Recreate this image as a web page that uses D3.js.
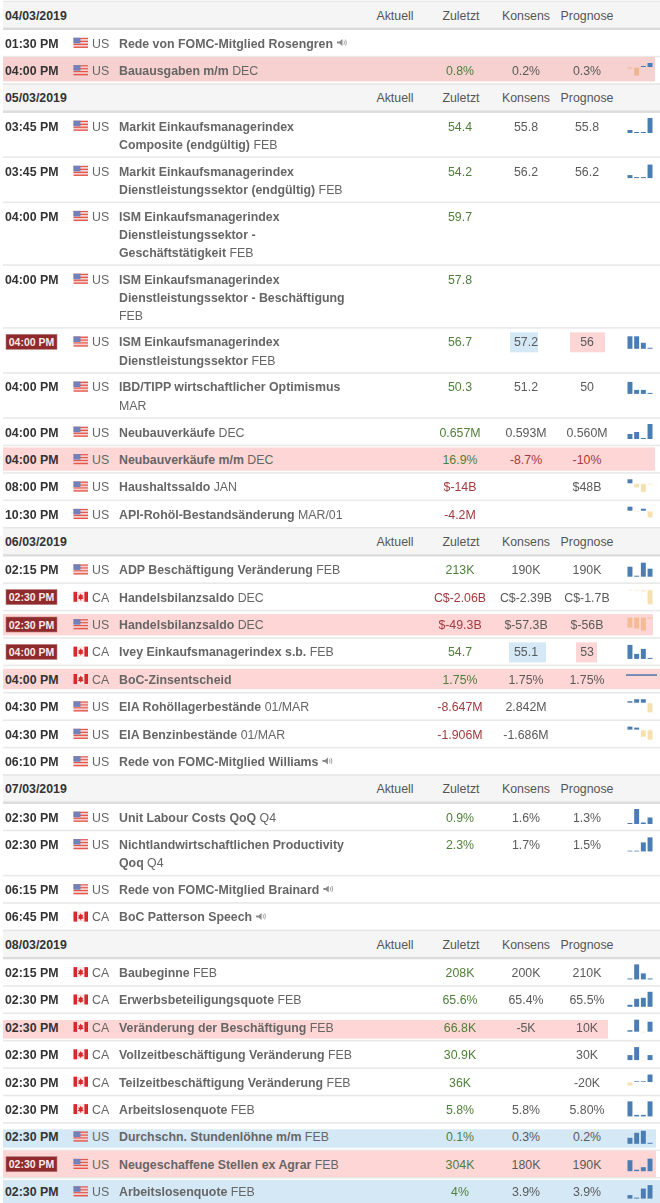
<!DOCTYPE html>
<html>
  <head>
    <meta charset="utf-8" />
    <title>Wirtschaftskalender</title>
    <script src="https://d3js.org/d3.v7.min.js"></script>
    <style>
      body { margin: 0; background: #fff; }
      svg { display: block; font-family: "Liberation Sans", Arial, sans-serif; }
    </style>
  </head>
  <body>
    <svg width="660" height="1203"></svg>

    <script>
      // Section headers
      const dates = ["04/03/2019", "05/03/2019", "06/03/2019", "07/03/2019", "08/03/2019"];
      const sectionSizes = [2, 10, 8, 4, 9];
      const columnNames = ["Aktuell", "Zuletzt", "Konsens", "Prognose"];

      // One entry per row, in reading order
      const times = [
        "01:30 PM", "04:00 PM",
        "03:45 PM", "03:45 PM", "04:00 PM", "04:00 PM", "04:00 PM", "04:00 PM", "04:00 PM", "04:00 PM", "08:00 PM", "10:30 PM",
        "02:15 PM", "02:30 PM", "02:30 PM", "04:00 PM", "04:00 PM", "04:30 PM", "04:30 PM", "06:10 PM",
        "02:30 PM", "02:30 PM", "06:15 PM", "06:45 PM",
        "02:15 PM", "02:30 PM", "02:30 PM", "02:30 PM", "02:30 PM", "02:30 PM", "02:30 PM", "02:30 PM", "02:30 PM",
      ];
      const countries = [
        "US", "US",
        "US", "US", "US", "US", "US", "US", "US", "US", "US", "US",
        "US", "CA", "US", "CA", "CA", "US", "US", "US",
        "US", "US", "US", "CA",
        "CA", "CA", "CA", "CA", "CA", "CA", "US", "US", "US",
      ];
      const titles = [
        ["Rede von FOMC-Mitglied Rosengren"],
        ["Bauausgaben m/m"],
        ["Markit Einkaufsmanagerindex", "Composite (endgültig)"],
        ["Markit Einkaufsmanagerindex", "Dienstleistungssektor (endgültig)"],
        ["ISM Einkaufsmanagerindex", "Dienstleistungssektor -", "Geschäftstätigkeit"],
        ["ISM Einkaufsmanagerindex", "Dienstleistungssektor - Beschäftigung", ""],
        ["ISM Einkaufsmanagerindex", "Dienstleistungssektor"],
        ["IBD/TIPP wirtschaftlicher Optimismus", ""],
        ["Neubauverkäufe"],
        ["Neubauverkäufe m/m"],
        ["Haushaltssaldo"],
        ["API-Rohöl-Bestandsänderung"],
        ["ADP Beschäftigung Veränderung"],
        ["Handelsbilanzsaldo"],
        ["Handelsbilanzsaldo"],
        ["Ivey Einkaufsmanagerindex s.b."],
        ["BoC-Zinsentscheid"],
        ["EIA Rohöllagerbestände"],
        ["EIA Benzinbestände"],
        ["Rede von FOMC-Mitglied Williams"],
        ["Unit Labour Costs QoQ"],
        ["Nichtlandwirtschaftlichen Productivity", "Qoq"],
        ["Rede von FOMC-Mitglied Brainard"],
        ["BoC Patterson Speech"],
        ["Baubeginne"],
        ["Erwerbsbeteiligungsquote"],
        ["Veränderung der Beschäftigung"],
        ["Vollzeitbeschäftigung Veränderung"],
        ["Teilzeitbeschäftigung Veränderung"],
        ["Arbeitslosenquote"],
        ["Durchschn. Stundenlöhne m/m"],
        ["Neugeschaffene Stellen ex Agrar"],
        ["Arbeitslosenquote"],
      ];
      const periods = [
        "", "DEC",
        "FEB", "FEB", "FEB", "FEB", "FEB", "MAR", "DEC", "DEC", "JAN", "MAR/01",
        "FEB", "DEC", "DEC", "FEB", "", "01/MAR", "01/MAR", "",
        "Q4", "Q4", "", "",
        "FEB", "FEB", "FEB", "FEB", "FEB", "FEB", "FEB", "FEB", "FEB",
      ];
      const zuletzt = [
        "", "0.8%",
        "54.4", "54.2", "59.7", "57.8", "56.7", "50.3", "0.657M", "16.9%", "$-14B", "-4.2M",
        "213K", "C$-2.06B", "$-49.3B", "54.7", "1.75%", "-8.647M", "-1.906M", "",
        "0.9%", "2.3%", "", "",
        "208K", "65.6%", "66.8K", "30.9K", "36K", "5.8%", "0.1%", "304K", "4%",
      ];
      const konsens = [
        "", "0.2%",
        "55.8", "56.2", "", "", "57.2", "51.2", "0.593M", "-8.7%", "", "",
        "190K", "C$-2.39B", "$-57.3B", "55.1", "1.75%", "2.842M", "-1.686M", "",
        "1.6%", "1.7%", "", "",
        "200K", "65.4%", "-5K", "", "", "5.8%", "0.3%", "180K", "3.9%",
      ];
      const prognose = [
        "", "0.3%",
        "55.8", "56.2", "", "", "56", "50", "0.560M", "-10%", "$48B", "",
        "190K", "C$-1.7B", "$-56B", "53", "1.75%", "", "", "",
        "1.3%", "1.5%", "", "",
        "210K", "65.5%", "10K", "30K", "-20K", "5.80%", "0.2%", "190K", "3.9%",
      ];
      // Sparkline bars (relative heights, negative = hanging bar)
      const sparks = [
        null, [-1, -8, 1, 4],
        [3, 1, 1, 15], [3, 1, 1, 13.5], null, null, [12.5, 12.5, 6, 1], [12, 4, 4, 1], [5, 7, 1, 15], null, [4, -3.5, -8, -0.7], [4, -0.5, 2, -6],
        [10, 1, 14, 8], [-0.5, -0.5, -1, -14], [-10, -11, -13, -1], [14, 5, 10, 1], [1, 1, 1, 1], [1.5, 3.5, 3.5, -9], [3, 2, -6.5, -9.5], null,
        [1, 15, 1.5, 6.5], [0.7, 0.7, 9, 14], null, null,
        [1, 15, 6, 1], [2, 8, 9, 15], [1.5, 12, -0.5, 10], [5, 13, -0.5, 5], [-3, 0.7, 0.7, 7.5], [15, 1.5, 1.5, 15], [6, 11, 13, 1], [11, 1.5, 4, 12.5], [3.5, 1, 10, 13.5],
      ];

      // Rows flagged by the page
      const speechRows = [0, 19, 22, 23];
      const badgeRows = [6, 13, 14, 15, 31];
      // row -> [colour, right edge, inset top, inset bottom]
      const rowHighlights = new Map([
        [1, ["#f7d0d0", 655, 0, 2]],
        [9, ["#ffd6d6", 655, 1.5, 1.5]],
        [14, ["#ffd6d6", 653, 3, 2]],
        [16, ["#ffd6d6", 660, 3, 3]],
        [26, ["#ffd6d6", 608, 6, 1.5]],
        [30, ["#d5e8f6", 656, 6, 2]],
        [31, ["#ffd6d6", 656, 0, 0]],
        [32, ["#d5e8f6", 660, 2, 0]],
      ]);
      // row -> cell tints [x0, x1, colour]
      const cellHighlights = new Map([
        [6, [[510, 538, "#d5e8f6"], [570, 605, "#ffd6d6"]]],
        [15, [[509, 546, "#d5e8f6"], [576, 597, "#ffd6d6"]]],
      ]);

      const svg = d3.select("svg");
      const width = +svg.attr("width");

      const fontSize = 12.35;
      const lineStep = 18;
      const rowBase = 27.4;
      const rowExtra = 17.7;
      const headerH = 28.1;
      const baseline = 18.1;
      const x = { time: 5, flag: 73.5, code: 92, title: 119 };
      const columnX = [395, 460, 526, 587];

      // Work out vertical layout from the number of text lines
      const sections = [];
      const rows = [];
      let cursor = 1.5;
      let index = 0;
      dates.forEach((date, s) => {
        sections.push({ date, y: cursor });
        cursor += headerH;
        d3.range(sectionSizes[s]).forEach(() => {
          const i = index++;
          const h = rowBase + rowExtra * (titles[i].length - 1);
          rows.push({
            i,
            y: cursor,
            h,
            time: times[i],
            country: countries[i],
            lines: titles[i],
            period: periods[i],
            values: [zuletzt[i], konsens[i], prognose[i]],
            spark: sparks[i],
          });
          cursor += h;
        });
      });

      // Row separators and full-row highlights
      const rowG = svg
        .selectAll(".row")
        .data(rows)
        .enter()
        .append("g")
        .attr("class", "row")
        .attr("transform", (d) => `translate(0,${d.y})`);

      rowG
        .append("rect")
        .attr("x", 3)
        .attr("y", (d) => d.h - 1.2)
        .attr("width", width - 3)
        .attr("height", 1.6)
        .attr("fill", "#e9e9e9");

      rowG
        .filter((d) => rowHighlights.has(d.i))
        .append("rect")
        .each(function (d) {
          const [fill, right, top, bottom] = rowHighlights.get(d.i);
          d3.select(this)
            .attr("x", 3)
            .attr("y", top)
            .attr("width", right - 3)
            .attr("height", d.h - top - bottom - 1)
            .attr("fill", fill);
        });

      // Time, or red badge for the high impact ones
      rowG
        .filter((d) => badgeRows.includes(d.i))
        .append("rect")
        .attr("x", 6)
        .attr("y", 6)
        .attr("width", 51)
        .attr("height", 15)
        .attr("fill", "#8f2a2d")
        .attr("stroke", "#b87878")
        .attr("stroke-width", 0.6);

      rowG
        .append("text")
        .attr("x", (d) => (badgeRows.includes(d.i) ? 31.5 : x.time))
        .attr("y", (d) => (badgeRows.includes(d.i) ? baseline - 0.3 : baseline))
        .attr("text-anchor", (d) => (badgeRows.includes(d.i) ? "middle" : "start"))
        .attr("font-size", (d) => (badgeRows.includes(d.i) ? 10.5 : fontSize))
        .attr("font-weight", "bold")
        .attr("fill", (d) => (badgeRows.includes(d.i) ? "#fbeaea" : "#333"))
        .text((d) => d.time);

      // Flags
      const flag = rowG.append("g").attr("transform", `translate(${x.flag},8.2)`);
      flag.filter((d) => d.country === "US").each(function () {
        const g = d3.select(this);
        d3.range(7).forEach((k) => {
          g.append("rect")
            .attr("y", k * 1.45)
            .attr("width", 14.5)
            .attr("height", 1.45)
            .attr("fill", k % 2 ? "#f6cfc9" : "#e4574f");
        });
        g.append("rect").attr("width", 7).attr("height", 5.5).attr("fill", "#6f82bd");
      });
      flag.filter((d) => d.country === "CA").each(function () {
        const g = d3.select(this);
        g.append("rect").attr("width", 14.5).attr("height", 10).attr("fill", "#f7e9e6");
        g.append("rect").attr("width", 3.6).attr("height", 10).attr("fill", "#d9282b");
        g.append("rect").attr("x", 10.9).attr("width", 3.6).attr("height", 10).attr("fill", "#d9282b");
        g.append("path")
          .attr("d", "M7.25 1.6L8.4 3.6L9.6 3.2L9 6L10.2 5.8L9.6 7L7.7 7.4V8.6H6.8V7.4L4.9 7L4.3 5.8L5.5 6L4.9 3.2L6.1 3.6Z")
          .attr("fill", "#d9282b");
      });

      rowG
        .append("text")
        .attr("x", x.code)
        .attr("y", baseline)
        .attr("font-size", fontSize)
        .attr("fill", "#666")
        .text((d) => d.country);

      // Title lines, period in regular weight at the end of the last line
      const titleText = rowG
        .selectAll(".title")
        .data((d) => d.lines.map((line, k) => ({ line, k, last: k === d.lines.length - 1, period: d.period })))
        .enter()
        .append("text")
        .attr("class", "title")
        .attr("x", x.title)
        .attr("y", (d) => baseline + (d.k ? 0.5 : 0) + d.k * lineStep)
        .attr("font-size", fontSize)
        .attr("fill", "#666");
      titleText.append("tspan").attr("font-weight", "bold").text((d) => d.line);
      titleText
        .filter((d) => d.last && d.period)
        .append("tspan")
        .text((d) => (d.line ? " " : "") + d.period);

      // Speaker icon after the speech titles
      rowG
        .filter((d) => speechRows.includes(d.i))
        .each(function () {
          const g = d3.select(this);
          const end = x.title + g.select(".title").node().getComputedTextLength() + 4;
          const icon = g.append("g").attr("transform", `translate(${end},9)`).attr("fill", "none").attr("stroke", "#8a8a8a");
          icon.append("path").attr("d", "M0 3H2.5L5.5 0.5V7.5L2.5 5H0Z").attr("fill", "#8a8a8a").attr("stroke", "none");
          icon.append("path").attr("d", "M7 2.2Q8 4 7 5.8").attr("stroke-width", 0.8);
          icon.append("path").attr("d", "M8.6 1Q10.2 4 8.6 7").attr("stroke-width", 0.8);
        });

      // Value cells
      const valueColor = (col, v) => {
        const negative = v.includes("-");
        if (col === 0) return negative ? "#a33a3f" : "#4f7f3a";
        return negative && v.endsWith("%") ? "#a33a3f" : "#5a5a5a";
      };

      rowG
        .filter((d) => cellHighlights.has(d.i))
        .selectAll(".cell-bg")
        .data((d) => cellHighlights.get(d.i))
        .enter()
        .append("rect")
        .attr("x", (d) => d[0])
        .attr("y", 4)
        .attr("width", (d) => d[1] - d[0])
        .attr("height", 20)
        .attr("fill", (d) => d[2]);

      rowG
        .selectAll(".value")
        .data((d) => d.values.map((v, col) => ({ v, col })).filter((c) => c.v))
        .enter()
        .append("text")
        .attr("class", "value")
        .attr("x", (d) => columnX[d.col + 1])
        .attr("y", baseline)
        .attr("text-anchor", "middle")
        .attr("font-size", fontSize)
        .attr("fill", (d) => valueColor(d.col, d.v))
        .text((d) => d.v);

      // Sparklines
      const sparkX = d3.scaleBand().domain(d3.range(4)).range([627.5, 652.5]).paddingInner(0.26);
      const sparkH = d3.scaleLinear().domain([0, 15]).range([0, 15]);

      rowG
        .filter((d) => d.spark)
        .each(function (d) {
          const g = d3.select(this).append("g");
          const hi = d3.max(d.spark);
          const flat = d3.min(d.spark) === hi;
          if (flat) {
            // all four readings equal: drawn as one line across the cell
            g.append("rect").attr("x", 626).attr("y", 8.5).attr("width", 31).attr("height", 1.5).attr("fill", "#4a76a8");
            return;
          }
          const base = d3.min(d.spark) < 0 ? 6 + sparkH(Math.max(hi, 0)) : 20.5;
          g.selectAll("rect")
            .data(d.spark)
            .enter()
            .append("rect")
            .attr("x", (v, k) => sparkX(k))
            .attr("width", sparkX.bandwidth())
            .attr("y", (v) => (v >= 0 ? base - sparkH(v) : base + 0.6))
            .attr("height", (v) => sparkH(Math.abs(v)))
            .attr("fill", (v) => (v >= 0 ? "#4a7db3" : "#f6dfb0"))
            .style("mix-blend-mode", (v) => (v >= 0 ? null : "multiply"));
        });

      // Date headers
      const headG = svg
        .selectAll(".head")
        .data(sections)
        .enter()
        .append("g")
        .attr("class", "head")
        .attr("transform", (d) => `translate(0,${d.y})`);

      headG.append("rect").attr("x", 3).attr("y", 0).attr("width", width - 3).attr("height", headerH).attr("fill", "#f5f5f5");
      headG.append("rect").attr("x", 3).attr("y", -0.8).attr("width", width - 3).attr("height", 1.2).attr("fill", "#e6e6e6");
      headG.append("rect").attr("x", 3).attr("y", headerH - 2).attr("width", width - 3).attr("height", 2.4).attr("fill", "#dcdcdc");

      headG
        .append("text")
        .attr("x", x.time)
        .attr("y", 18)
        .attr("font-size", fontSize)
        .attr("font-weight", "bold")
        .attr("fill", "#333")
        .text((d) => d.date);

      headG
        .selectAll(".col")
        .data(columnNames.map((name, k) => ({ name, k })))
        .enter()
        .append("text")
        .attr("class", "col")
        .attr("x", (d) => columnX[d.k] + (d.k === 1 ? 1 : 0))
        .attr("y", 18)
        .attr("text-anchor", "middle")
        .attr("font-size", fontSize)
        .attr("fill", "#555")
        .text((d) => d.name);
    </script>
  </body>
</html>
